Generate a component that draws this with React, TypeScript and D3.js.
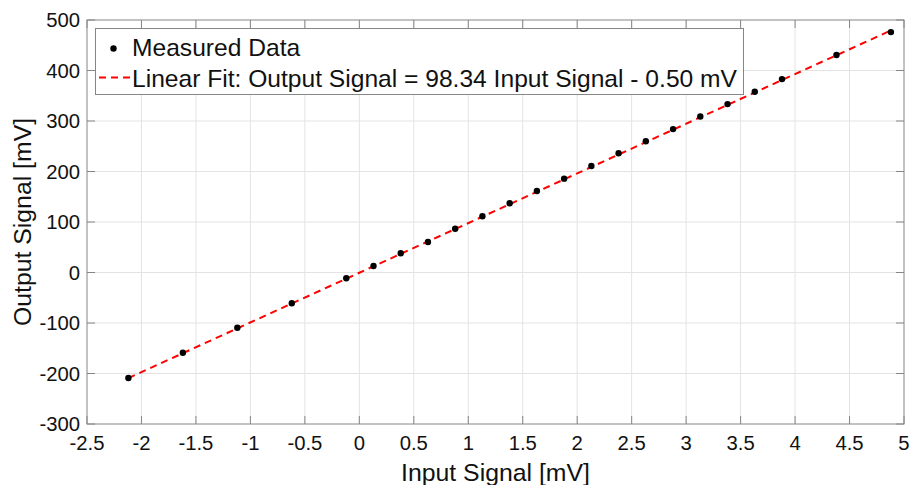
import React from "react";
import * as d3 from "d3";

const inputSignal = [-2.12, -1.62, -1.12, -0.62, -0.12, 0.13, 0.38, 0.63, 0.88, 1.13, 1.38, 1.63, 1.88, 2.13, 2.38, 2.63, 2.88, 3.13, 3.38, 3.63, 3.88, 4.38, 4.88];
const outputSignal = [-209, -159, -109.5, -61, -11.5, 12.9, 38, 60.4, 86.7, 111.5, 137, 161.5, 185.8, 210.9, 236, 260, 284, 309, 333.5, 358, 383, 430.7, 476];
const slope = 98.34;
const intercept = -0.5;
const xTicks = [-2.5, -2, -1.5, -1, -0.5, 0, 0.5, 1, 1.5, 2, 2.5, 3, 3.5, 4, 4.5, 5];
const yTicks = [-300, -200, -100, 0, 100, 200, 300, 400, 500];
const legendLabels = ["Measured Data", "Linear Fit: Output Signal = 98.34 Input Signal - 0.50 mV"];

const W = 911, H = 485;
const L = 87, R = 904, T = 20, B = 424;
const FONT = "'Liberation Sans', Arial, sans-serif";

export default function App() {
  const x = d3.scaleLinear().domain([-2.5, 5]).range([L, R]);
  const y = d3.scaleLinear().domain([-300, 500]).range([B, T]);
  const x0 = d3.min(inputSignal)!, x1 = d3.max(inputSignal)!;
  const fitLine = d3.line<number>().x(d => x(d)).y(d => y(slope * d + intercept));
  const axisColor = "#868686";
  const tickLen = 8;
  return (
    <svg width={W} height={H} style={{ position: "absolute", left: 0, top: 0, background: "#fff" }} fontFamily={FONT}>
      <rect x={0} y={0} width={W} height={H} fill="#fff" />
      {xTicks.slice(1, -1).map(t => (
        <line key={"gx" + t} x1={x(t)} x2={x(t)} y1={T} y2={B} stroke="#e3e3e3" strokeWidth={1} />
      ))}
      {yTicks.slice(1, -1).map(t => (
        <line key={"gy" + t} x1={L} x2={R} y1={y(t)} y2={y(t)} stroke="#e3e3e3" strokeWidth={1} />
      ))}
      {xTicks.map(t => (
        <g key={"tx" + t}>
          <line x1={x(t)} x2={x(t)} y1={B} y2={B - tickLen} stroke={axisColor} />
          <line x1={x(t)} x2={x(t)} y1={T} y2={T + tickLen} stroke={axisColor} />
          <text x={x(t)} y={450} textAnchor="middle" fontSize={20.3} fill="#111">{t}</text>
        </g>
      ))}
      {yTicks.map(t => (
        <g key={"ty" + t}>
          <line x1={L} x2={L + tickLen} y1={y(t)} y2={y(t)} stroke={axisColor} />
          <line x1={R} x2={R - tickLen} y1={y(t)} y2={y(t)} stroke={axisColor} />
          <text x={80} y={y(t)} dy="0.35em" textAnchor="end" fontSize={20.3} fill="#111">{t}</text>
        </g>
      ))}
      <path d={fitLine([x0, x1]) || ""} fill="none" stroke="#ff0000" strokeWidth={2} strokeDasharray="7,5" />
      {inputSignal.map((v, i) => (
        <circle key={"p" + i} cx={x(v)} cy={y(outputSignal[i])} r={3.2} fill="#000" />
      ))}
      <rect x={L} y={T} width={R - L} height={B - T} fill="none" stroke={axisColor} strokeWidth={1} />
      <rect x={95.5} y={28.5} width={648} height={66} fill="#fff" stroke={axisColor} strokeWidth={1} />
      <circle cx={113.5} cy={48.5} r={3.2} fill="#000" />
      <line x1={99} x2={131} y1={77.5} y2={77.5} stroke="#ff0000" strokeWidth={2} strokeDasharray="7,5" />
      <text x={132} y={56} fontSize={24.6} fill="#111">{legendLabels[0]}</text>
      <text x={132} y={87} fontSize={24.6} fill="#111">{legendLabels[1]}</text>
      <text x={(L + R) / 2} y={481} textAnchor="middle" fontSize={24.8} fill="#111">Input Signal [mV]</text>
      <text transform={`translate(31, ${(T + B) / 2}) rotate(-90)`} textAnchor="middle" fontSize={24.8} fill="#111">Output Signal [mV]</text>
    </svg>
  );
}
